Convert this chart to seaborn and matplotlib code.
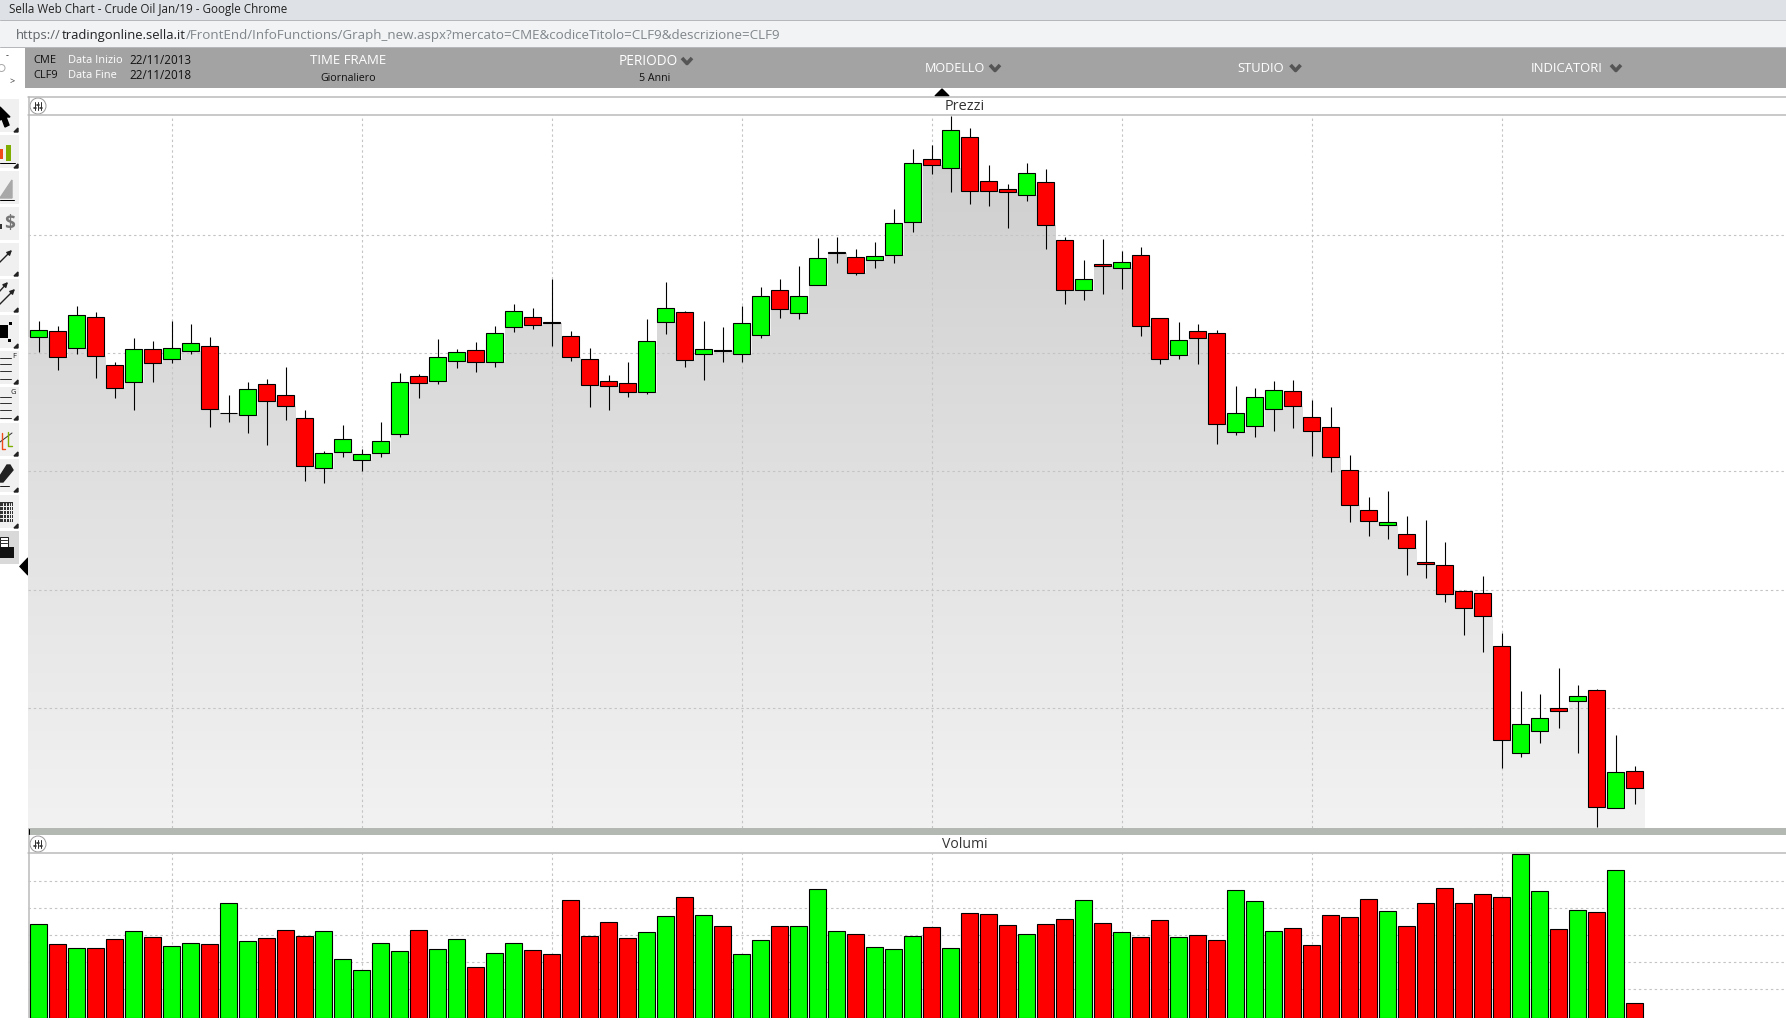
import numpy as np
import pandas as pd
import matplotlib
matplotlib.use('Agg')
import matplotlib.pyplot as plt
import seaborn as sns
from matplotlib.colors import LinearSegmentedColormap
from matplotlib.patches import Rectangle, Polygon, Circle

# Candles (the chart shows no price scale, so the units are arbitrary)
opens = [51.27, 51.87, 50.17, 53.27, 48.47, 46.77, 50.07, 49.07, 49.87, 50.37,
         43.65, 43.47, 46.57, 45.47, 43.17, 38.17, 39.77, 38.97, 39.67, 41.57,
         47.37, 46.87, 48.87, 49.97, 48.77, 52.27, 53.27, 52.78, 51.37, 49.07,
         46.87, 46.67, 45.77, 52.77, 53.77, 49.57, 49.98, 49.57, 51.47, 55.97,
         53.67, 56.47, 59.68, 59.27, 58.97, 59.47, 62.77, 69.07, 68.17, 71.27,
         66.87, 66.07, 65.47, 66.77, 60.97, 55.97, 58.57, 58.17, 59.47, 53.17,
         49.47, 51.87, 51.74, 41.77, 42.37, 44.07, 45.87, 43.27, 42.27, 37.97,
         33.97, 32.47, 31.57, 28.77, 28.47, 25.87, 25.67, 20.37, 9.67, 11.87,
         14.17, 14.87, 15.97, 4.17, 7.87]
closes = [51.97, 49.27, 53.47, 49.43, 46.17, 50.07, 48.67, 50.17, 50.67, 44.07,
          43.69, 46.07, 44.87, 44.37, 38.37, 39.67, 41.07, 39.57, 40.87, 46.77,
          46.67, 49.27, 49.77, 48.77, 51.67, 53.87, 52.47, 52.68, 49.27, 46.47,
          46.43, 45.83, 50.87, 54.17, 48.97, 50.07, 49.88, 52.67, 55.37, 54.07,
          55.37, 59.17, 59.78, 57.67, 59.37, 62.67, 68.67, 68.47, 71.97, 65.87,
          65.87, 65.77, 67.67, 62.47, 55.97, 57.07, 58.37, 58.77, 52.37, 49.07,
          50.97, 51.17, 42.57, 43.67, 45.27, 45.97, 44.37, 41.87, 39.27, 34.47,
          32.87, 32.77, 30.17, 28.57, 25.57, 24.17, 23.37, 10.97, 12.57, 13.17,
          13.87, 15.37, 4.27, 7.77, 6.17]
highs = [52.87, 52.37, 54.37, 53.77, 48.77, 51.17, 50.87, 52.87, 52.57, 51.27,
         45.47, 46.77, 47.07, 48.27, 43.97, 39.87, 42.47, 40.13, 42.77, 47.67,
         47.57, 51.07, 50.07, 50.77, 52.37, 54.57, 54.17, 57.10, 51.87, 50.17,
         47.47, 48.77, 53.07, 56.77, 53.87, 52.87, 52.27, 54.37, 56.27, 57.07,
         58.37, 61.17, 61.27, 60.07, 60.77, 64.07, 70.07, 70.47, 73.37, 72.17,
         68.47, 66.57, 68.67, 68.07, 61.27, 58.97, 61.07, 59.87, 60.27, 53.17,
         52.77, 52.57, 52.00, 46.40, 46.17, 46.87, 46.96, 44.97, 44.27, 39.47,
         35.27, 35.87, 33.37, 32.97, 30.77, 25.97, 27.37, 21.67, 15.87, 15.57,
         18.17, 16.47, 16.07, 11.47, 8.37]
lows = [49.83, 47.97, 49.57, 47.17, 45.17, 43.97, 46.77, 48.67, 49.57, 42.27,
        42.77, 41.67, 40.47, 42.97, 36.87, 36.67, 39.27, 37.87, 39.27, 41.27,
        45.17, 46.57, 48.17, 47.77, 48.27, 51.77, 52.07, 50.37, 48.87, 44.27,
        44.00, 45.27, 45.63, 51.57, 48.27, 46.97, 48.77, 48.77, 51.17, 53.17,
        53.07, 56.47, 58.67, 57.47, 58.17, 58.67, 61.77, 67.57, 65.77, 64.57,
        64.37, 62.17, 64.87, 60.07, 54.57, 54.97, 55.57, 56.07, 51.37, 48.57,
        49.07, 48.57, 40.57, 41.47, 41.27, 41.87, 42.17, 39.37, 37.77, 32.77,
        31.37, 31.07, 27.47, 27.17, 24.77, 21.47, 19.77, 8.17, 9.27, 10.67,
        12.17, 9.67, 2.27, 4.17, 4.57]
volumes = [281, 221, 209, 209, 236, 260, 242, 215, 224, 221,
           344, 230, 239, 263, 245, 260, 176, 143, 224, 200,
           263, 206, 236, 152, 194, 224, 203, 191, 353, 245,
           287, 239, 257, 305, 362, 308, 275, 191, 233, 275,
           275, 386, 260, 251, 212, 206, 245, 272, 209, 314,
           311, 278, 251, 281, 296, 353, 284, 257, 242, 293,
           242, 248, 233, 383, 350, 260, 269, 218, 308, 302,
           356, 320, 275, 344, 389, 344, 371, 362, 491, 380,
           266, 323, 317, 443, 44]

price_grid = [61.5, 49.7, 37.9, 26.0, 14.2]
volume_grid = [86, 167, 248, 329, 410]
time_grid = [7, 17, 27, 37, 47, 57, 67, 77]

UP = '#00ff00'
DOWN = '#ff0000'
GRID = '#c4c4c4'
PX = 0.72  # one pixel in points at dpi 100

W, H = 1786, 1018
sns.set_theme(style='white')
plt.rcParams['font.family'] = ['Open Sans', 'DejaVu Sans']

fig = plt.figure(figsize=(W / 100, H / 100), dpi=100, facecolor='white')


def panel(left, top, right, bottom):
    return fig.add_axes([left / W, 1 - bottom / H, (right - left) / W, (bottom - top) / H])


# Page furniture in pixel coordinates
bg = fig.add_axes([0, 0, 1, 1])
bg.set_xlim(0, W)
bg.set_ylim(H, 0)
bg.axis('off')


def box(x, y, w, h, color, **kw):
    bg.add_patch(Rectangle((x, y), w, h, facecolor=color, edgecolor='none', **kw))


def label(x, y, s, size, color='black', ha='left', **kw):
    bg.text(x, y, s, fontsize=size * PX, color=color, ha=ha, va='center', **kw)


def chevron(x, y):
    bg.plot([x - 5, x, x + 5], [y - 3, y + 2.5, y - 3], color='#555555', lw=2.6, solid_capstyle='butt')


def arrow(x0, y0, x1, y1):
    bg.annotate('', xy=(x1, y1), xytext=(x0, y0),
                arrowprops=dict(arrowstyle='-|>', color='#222222', lw=1, mutation_scale=7,
                                shrinkA=0, shrinkB=0))


box(0, 0, W, 20, '#dee1e6')
box(0, 20, W, 27, '#f1f3f4')
bg.plot([0, W], [20, 20], color='#b5b7ba', lw=PX)
bg.plot([0, W], [47, 47], color='#b5b7ba', lw=PX)
box(25, 47, W - 25, 41, '#a3a3a3')

label(9, 9.5, 'Sella Web Chart - Crude Oil Jan/19 - Google Chrome', 11.6, '#222222')
label(16, 35, 'https://', 13, '#5f6368')
label(62, 35, 'tradingonline.sella.it', 13, '#202124')
label(186, 35, '/FrontEnd/InfoFunctions/Graph_new.aspx?mercato=CME&codiceTitolo=CLF9&descrizione=CLF9', 13.45, '#80868b')

label(33, 60, 'CME', 11, '#111111')
label(33, 75.2, 'CLF9', 11, '#111111')
label(68, 60, 'Data Inizio', 11, 'white')
label(68, 75.2, 'Data Fine', 11, 'white')
label(129, 60, '22/11/2013', 11.6, '#111111')
label(129, 75.2, '22/11/2018', 11.6, '#111111')
label(348, 60.5, 'TIME FRAME', 13.2, 'white', ha='center')
label(348, 78, 'Giornaliero', 10.6, '#111111', ha='center')
label(619, 61.5, 'PERIODO', 13.5, 'white')
chevron(687, 61)
label(655, 78, '5 Anni', 10.6, '#111111', ha='center')
label(925, 68.5, 'MODELLO', 12.6, 'white')
chevron(995, 68)
label(1237, 68.5, 'STUDIO', 13, 'white')
chevron(1295.5, 68)
label(1531, 68.5, 'INDICATORI', 13.1, 'white')
chevron(1616, 68)
bg.add_patch(Polygon([(935, 96), (949, 96), (942, 89)], color='black'))

# Panel headers
LINE = '#b9b9b9'
bg.plot([28, W], [96.5, 96.5], color=LINE, lw=1.5 * PX)
bg.plot([28, W], [115.3, 115.3], color=LINE, lw=1.5 * PX)
bg.plot([28, W], [853.3, 853.3], color=LINE, lw=1.5 * PX)
bg.plot([28.5, 28.5], [96.5, H], color=LINE, lw=1.5 * PX)
label(945, 106, 'Prezzi', 14.5, '#333333')
label(942, 844, 'Volumi', 14, '#333333')
box(28, 828, W - 28, 6.8, '#b3b8b3')
bg.plot([28.5, 28.5], [829, 834], color='black', lw=PX)
for cy in [106, 844]:
    bg.add_patch(Circle((38, cy), 8, facecolor='white', edgecolor='#9a9a9a', lw=PX))
    for dx, mark in zip([-3, 0, 3], [1, -1, 1]):
        bg.plot([38 + dx, 38 + dx], [cy - 4, cy + 4], color='#333333', lw=PX)
        bg.plot([38 + dx - 1.2, 38 + dx + 1.2], [cy + mark * 1.5] * 2, color='#333333', lw=1.2)

# Toolbar on the left
for n in range(13):
    box(0, 99 + 36 * n, 19, 33.3, '#d9d9d9' if n == 12 else '#f0f0f0')
    if n < 12 and n not in (2, 3):
        bg.add_patch(Polygon([(18, 99 + 36 * n + 33), (18, 99 + 36 * n + 29), (14, 99 + 36 * n + 33)], color='#222222'))
bg.add_patch(Polygon([(0, 107), (0, 120), (2, 119), (5, 127), (9, 125), (6, 117), (10, 117)], color='black'))
box(0, 149, 2.5, 10, '#f04a1a')
box(6, 145, 5, 16, '#7fae00')
bg.plot([0, 15], [163, 163], color='black', lw=PX)
bg.add_patch(Polygon([(0, 198), (12, 180), (12, 198)], color='#a8a8a8'))
bg.plot([0, 14], [199.5, 199.5], color='black', lw=PX)
label(9.5, 224, '$', 19, '#777777', ha='center', fontweight='bold')
box(0, 224, 2, 5, '#333333')
arrow(-1, 263, 12, 250)
arrow(-1, 305, 15, 289)
arrow(-1, 292, 8, 282)
box(0, 325, 8, 13, 'black')
box(9, 322, 2.5, 2.5, 'black')
box(8, 339, 3, 3, 'black')
for base, tag, tx in [(358, 'F', 14.5), (397, 'G', 13)]:
    for dy in [0, 6, 13, 21]:
        bg.plot([0, 11], [base + dy, base + dy], color='#333333', lw=PX)
    label(tx, base - 1 if tag == 'F' else base - 4, tag, 7.5, '#222222', ha='center')
bg.plot([0, 12], [442, 433], color='#333333', lw=PX)
bg.plot([2, 2, 5], [433, 449, 449], color='#f04a1a', lw=1)
bg.plot([8, 8, 12], [432, 446, 446], color='#7fae00', lw=1)
bg.add_patch(Polygon([(0, 476), (0, 482), (3, 482), (13, 470), (10, 465), (7, 465)], color='#222222'))
bg.plot([0, 9], [486, 486], color='#222222', lw=PX)
box(0, 502, 13, 20, '#333333')
for gx in [2.5, 5.5, 8.5, 11]:
    bg.plot([gx, gx], [503, 521], color='#f0f0f0', lw=PX)
for gy in [506, 510, 514, 518]:
    bg.plot([0, 13], [gy, gy], color='#f0f0f0', lw=PX)
bg.add_patch(Rectangle((0, 537), 8, 10, facecolor='white', edgecolor='#222222', lw=PX, zorder=3))
for gy in [540, 543]:
    bg.plot([0, 7], [gy, gy], color='#333333', lw=PX, zorder=4)
box(0, 547, 14, 11, '#111111', zorder=3)
bg.add_patch(Polygon([(20, 566.5), (28, 558), (28, 575)], color='black'))
label(6, 56, '-', 9, '#333333')
bg.add_patch(Circle((1.5, 68), 3.5, facecolor='none', edgecolor='#aaaaaa', lw=PX))
label(9, 81.5, '>', 9, '#333333')

# Price panel
df = pd.DataFrame({'open': opens, 'close': closes, 'high': highs, 'low': lows, 'volume': volumes})
df['i'] = np.arange(len(df))
df['bar_x'] = df['i'] - 0.03  # bodies sit half a pixel left of the wicks
df['side'] = np.where(df['close'] > df['open'], 'up', 'down')
df['top'] = df[['open', 'close']].max(axis=1)
df['bottom'] = df[['open', 'close']].min(axis=1)

ax = panel(28, 115.3, W, 828)
ax.patch.set_alpha(0)
xlim = (-0.6, 91.93)
ylim = (2.2, 73.47)

# Grey area under the bodies, shaded by height
area_x = np.r_[-0.6, df['i'], df['i'].iloc[-1] + 0.5]
area_y = np.r_[df['bottom'].iloc[0], df['bottom'], df['bottom'].iloc[-1]]
area = ax.fill_between(area_x, area_y, ylim[0], step='mid', color='none', linewidth=0)
shade = LinearSegmentedColormap.from_list('shade', ['#cdcdcd', '#f2f2f2'])
grad = ax.imshow(np.linspace(0, 1, 256).reshape(-1, 1), cmap=shade, aspect='auto',
                 extent=(xlim[0], xlim[1], ylim[0], ylim[1]), zorder=1)
grad.set_clip_path(area.get_paths()[0], transform=ax.transData)

for v in price_grid:
    ax.axhline(v, color=GRID, lw=PX * 1.1, ls=(0, (2.2, 2.6)), zorder=2)
for t in time_grid:
    ax.axvline(t, color=GRID, lw=PX * 1.1, ls=(0, (2.2, 2.6)), zorder=2)

ax.vlines(df['i'], df['low'], df['high'], color='black', lw=PX * 1.1, zorder=3)
for side, color in [('up', UP), ('down', DOWN)]:
    part = df[df['side'] == side]
    ax.bar(part['bar_x'], part['top'] - part['bottom'], bottom=part['bottom'], width=0.9,
           color=color, edgecolor='black', linewidth=PX * 1.1, zorder=4)
ax.set_xlim(*xlim)
ax.set_ylim(*ylim)
ax.set_xticks([])
ax.set_yticks([])
sns.despine(ax=ax, left=True, bottom=True)

# Volume panel
ax2 = panel(28, 853.3, W, H)
ax2.patch.set_alpha(0)
for v in volume_grid:
    ax2.axhline(v, color=GRID, lw=PX * 1.1, ls=(0, (2.2, 2.6)), zorder=0)
for t in time_grid:
    ax2.axvline(t, color=GRID, lw=PX * 1.1, ls=(0, (2.2, 2.6)), zorder=0)
sns.barplot(data=df, x='bar_x', y='volume', hue='side', palette={'up': UP, 'down': DOWN},
            native_scale=True, dodge=False, width=0.9, saturation=1, errorbar=None,
            legend=False, edgecolor='black', linewidth=PX * 1.1, ax=ax2, zorder=3)
ax2.set_xlim(*xlim)
ax2.set_ylim(0, 494)
ax2.set_xlabel('')
ax2.set_ylabel('')
ax2.set_xticks([])
ax2.set_yticks([])
sns.despine(ax=ax2, left=True, bottom=True)

fig.savefig('out.png', dpi=100)
